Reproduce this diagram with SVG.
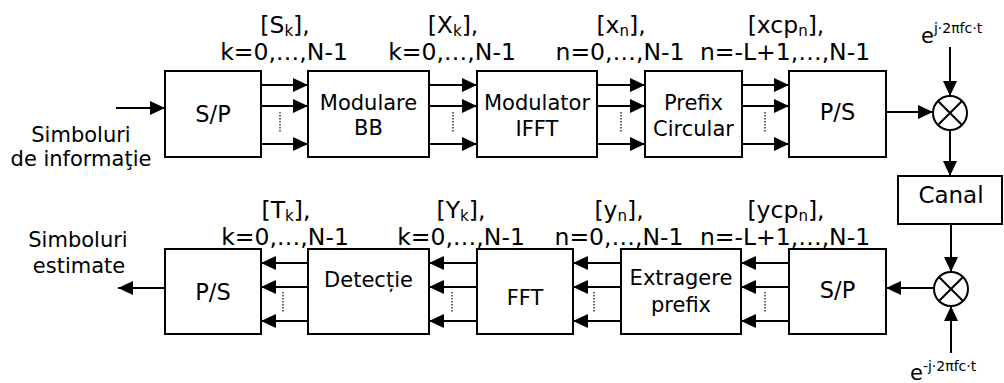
<svg xmlns="http://www.w3.org/2000/svg" width="1004" height="383" viewBox="0 0 1004 383">
<style>
text{font-family:"DejaVu Sans","Verdana",sans-serif;font-size:21px;fill:#000;text-anchor:middle}
.lb{font-size:23.5px}
.big{font-size:23px}
.mid{font-size:22.5px}
.box{fill:#fff;stroke:#000;stroke-width:2}
.ln{stroke:#000;stroke-width:2;fill:none}
.ar{marker-end:url(#ah)}
.dot{stroke:#000;stroke-width:1.2;stroke-dasharray:1.5 1.5;fill:none}
.sub{font-size:15px}
.sup{font-size:14px}
.st{text-anchor:start}
</style>
<defs>
<marker id="ah" markerUnits="userSpaceOnUse" markerWidth="16" markerHeight="15" refX="15" refY="7" orient="auto">
<path d="M0,0 L15,7 L0,14 z" fill="#000"/>
</marker>
</defs>

<g id="connectors">
<line class="ln ar" x1="116" y1="108" x2="165" y2="108"/>
<line class="ln ar" x1="261" y1="85" x2="308" y2="85"/>
<line class="ln ar" x1="261" y1="106" x2="308" y2="106"/>
<line class="ln ar" x1="261" y1="144" x2="308" y2="144"/>
<line class="dot" x1="280" y1="112" x2="280" y2="133"/>
<line class="ln ar" x1="429" y1="85" x2="477" y2="85"/>
<line class="ln ar" x1="429" y1="106" x2="477" y2="106"/>
<line class="ln ar" x1="429" y1="144" x2="477" y2="144"/>
<line class="dot" x1="453" y1="112" x2="453" y2="133"/>
<line class="ln ar" x1="597" y1="85" x2="645" y2="85"/>
<line class="ln ar" x1="597" y1="106" x2="645" y2="106"/>
<line class="ln ar" x1="597" y1="144" x2="645" y2="144"/>
<line class="dot" x1="621" y1="112" x2="621" y2="133"/>
<line class="ln ar" x1="742" y1="85" x2="789" y2="85"/>
<line class="ln ar" x1="742" y1="106" x2="789" y2="106"/>
<line class="ln ar" x1="742" y1="144" x2="789" y2="144"/>
<line class="dot" x1="765" y1="112" x2="765" y2="133"/>
<line class="ln ar" x1="886" y1="112" x2="933" y2="112"/>
<line class="ln ar" x1="950" y1="47" x2="950" y2="96"/>
<line class="ln ar" x1="950" y1="130" x2="950" y2="176"/>
<line class="ln ar" x1="951" y1="224" x2="951" y2="272"/>
<line class="ln ar" x1="951" y1="353" x2="951" y2="306"/>
<line class="ln ar" x1="934" y1="288" x2="886" y2="288"/>
<line class="ln ar" x1="789" y1="263" x2="741" y2="263"/>
<line class="ln ar" x1="789" y1="287" x2="741" y2="287"/>
<line class="ln ar" x1="789" y1="321" x2="741" y2="321"/>
<line class="dot" x1="765" y1="292" x2="765" y2="313"/>
<line class="ln ar" x1="621" y1="263" x2="573" y2="263"/>
<line class="ln ar" x1="621" y1="287" x2="573" y2="287"/>
<line class="ln ar" x1="621" y1="321" x2="573" y2="321"/>
<line class="dot" x1="594" y1="292" x2="594" y2="313"/>
<line class="ln ar" x1="477" y1="263" x2="429" y2="263"/>
<line class="ln ar" x1="477" y1="287" x2="429" y2="287"/>
<line class="ln ar" x1="477" y1="321" x2="429" y2="321"/>
<line class="dot" x1="452" y1="292" x2="452" y2="313"/>
<line class="ln ar" x1="308" y1="263" x2="261" y2="263"/>
<line class="ln ar" x1="308" y1="287" x2="261" y2="287"/>
<line class="ln ar" x1="308" y1="321" x2="261" y2="321"/>
<line class="dot" x1="283" y1="292" x2="283" y2="313"/>
<line class="ln ar" x1="165" y1="288" x2="118" y2="288"/>
</g>

<g id="tx_sp"><rect class="box" x="165" y="71" width="96" height="86"/><text class="mid" x="213" y="122">S/P</text></g>
<g id="mod_bb"><rect class="box" x="308" y="71" width="121" height="86"/><text x="368.5" y="110">Modulare</text><text x="368.5" y="135">BB</text></g>
<g id="ifft"><rect class="box" x="477" y="71" width="120" height="86"/><text x="537" y="110">Modulator</text><text x="537" y="136">IFFT</text></g>
<g id="prefix"><rect class="box" x="645" y="71" width="97" height="86"/><text x="693.5" y="110">Prefix</text><text x="693.5" y="136">Circular</text></g>
<g id="tx_ps"><rect class="box" x="789" y="71" width="97" height="86"/><text class="mid" x="837.5" y="120">P/S</text></g>
<g id="mix_tx"><circle class="box" cx="950" cy="113" r="17"/><path class="ln" d="M938,101 L962,125 M962,101 L938,125"/></g>
<g id="canal"><rect class="box" x="898" y="176" width="104" height="48"/><text class="big" x="951" y="203">Canal</text></g>
<g id="mix_rx"><circle class="box" cx="951" cy="289" r="17"/><path class="ln" d="M939,277 L963,301 M963,277 L939,301"/></g>
<g id="rx_sp"><rect class="box" x="789" y="249" width="97" height="85"/><text class="mid" x="837.5" y="298">S/P</text></g>
<g id="extragere"><rect class="box" x="621" y="249" width="120" height="85"/><text x="681" y="285">Extragere</text><text x="681" y="312">prefix</text></g>
<g id="fft"><rect class="box" x="477" y="249" width="96" height="85"/><text x="525" y="305">FFT</text></g>
<g id="detectie"><rect class="box" x="308" y="249" width="121" height="85"/><text x="368.5" y="287">Detecție</text></g>
<g id="rx_ps"><rect class="box" x="165" y="249" width="96" height="85"/><text class="mid" x="213" y="300">P/S</text></g>

<g id="labels">
<text x="81" y="142">Simboluri</text>
<text x="81" y="166">de informaţie</text>
<text x="78" y="247">Simboluri</text>
<text x="79" y="273">estimate</text>

<text class="lb" x="285" y="33">[S<tspan class="sub" dy="3">k</tspan><tspan dy="-3">],</tspan></text>
<text class="lb" x="284" y="60">k=0,…,N-1</text>
<text class="lb" x="453" y="33">[X<tspan class="sub" dy="3">k</tspan><tspan dy="-3">],</tspan></text>
<text class="lb" x="452" y="60">k=0,…,N-1</text>
<text class="lb" x="621" y="33">[x<tspan class="sub" dy="3">n</tspan><tspan dy="-3">],</tspan></text>
<text class="lb" x="620" y="60">n=0,…,N-1</text>
<text class="lb" x="786" y="33">[xcp<tspan class="sub" dy="3">n</tspan><tspan dy="-3">],</tspan></text>
<text class="lb" x="785" y="60">n=-L+1,…,N-1</text>

<text class="lb" x="286" y="218">[T<tspan class="sub" dy="3">k</tspan><tspan dy="-3">],</tspan></text>
<text class="lb" x="285" y="245">k=0,…,N-1</text>
<text class="lb" x="461" y="218">[Y<tspan class="sub" dy="3">k</tspan><tspan dy="-3">],</tspan></text>
<text class="lb" x="461" y="245">k=0,…,N-1</text>
<text class="lb" x="619" y="218">[y<tspan class="sub" dy="3">n</tspan><tspan dy="-3">],</tspan></text>
<text class="lb" x="619" y="245">n=0,…,N-1</text>
<text class="lb" x="786" y="218">[ycp<tspan class="sub" dy="3">n</tspan><tspan dy="-3">],</tspan></text>
<text class="lb" x="785" y="245">n=-L+1,…,N-1</text>

<text class="st" x="921" y="43">e<tspan class="sup" dy="-10">j·2πfc·t</tspan></text>
<text class="st" x="910" y="380">e<tspan class="sup" dy="-9">-j·2πfc·t</tspan></text>
</g>
</svg>
